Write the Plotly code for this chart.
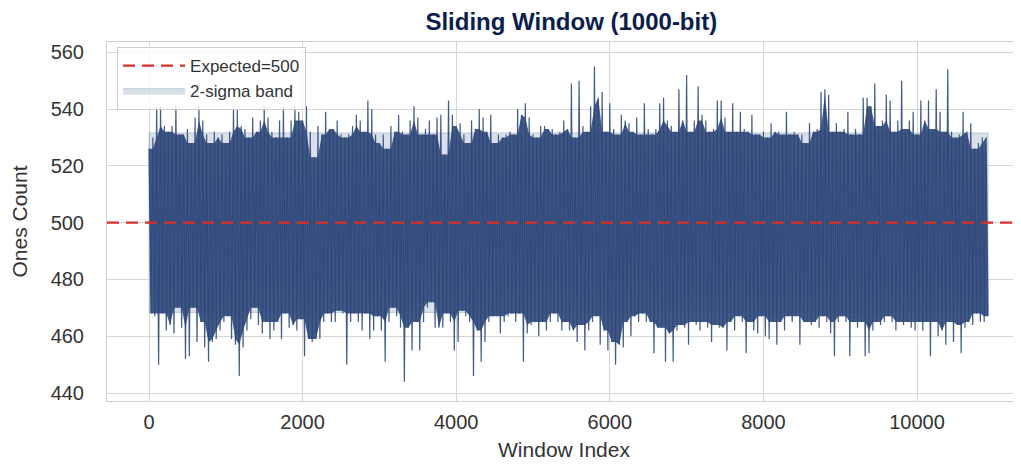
import plotly.graph_objects as go

# Per-bin (50 windows) extremes of the ones count
hi = [526, 530, 541, 541, 534, 532, 534, 541, 531, 531, 533, 528, 537, 541, 536, 531, 528, 532, 530, 531,
      528, 532, 541, 540, 534, 533, 530, 537, 532, 536, 541, 537, 532, 530, 536, 541, 530, 536, 541, 539,
      536, 541, 532, 523, 534, 531, 539, 533, 533, 536, 531, 530, 531, 534, 538, 536, 532, 543, 540, 531,
      528, 531, 526, 534, 532, 538, 532, 531, 536, 541, 537, 531, 533, 536, 531, 537, 538, 524, 543, 538,
      534, 535, 531, 528, 536, 533, 540, 537, 532, 538, 528, 531, 530, 531, 532, 531, 540, 538, 542, 537,
      531, 530, 534, 534, 533, 533, 531, 532, 536, 533, 549, 530, 550, 534, 532, 541, 555, 544, 546, 532,
      542, 533, 531, 538, 536, 535, 532, 537, 531, 542, 533, 531, 533, 542, 544, 536, 534, 532, 547, 536,
      552, 532, 536, 548, 538, 536, 532, 533, 543, 543, 537, 532, 542, 532, 539, 533, 532, 538, 531, 531,
      532, 530, 535, 532, 532, 531, 539, 531, 532, 531, 531, 528, 535, 532, 533, 546, 547, 545, 532, 535,
      532, 533, 539, 531, 533, 531, 544, 544, 541, 549, 534, 536, 545, 543, 532, 536, 550, 533, 536, 539,
      531, 543, 536, 543, 533, 547, 539, 532, 554, 532, 530, 531, 539, 532, 535, 526, 528, 530, 530]
lo = [468, 467, 450, 468, 462, 464, 461, 470, 463, 452, 453, 470, 458, 465, 456, 451, 458, 459, 462, 465,
      467, 459, 457, 446, 456, 462, 466, 470, 464, 461, 465, 459, 462, 465, 459, 468, 463, 464, 462, 466,
      453, 459, 458, 459, 459, 465, 468, 465, 465, 469, 468, 450, 465, 468, 465, 462, 468, 459, 462, 467,
      462, 451, 465, 470, 467, 463, 444, 463, 455, 465, 455, 465, 470, 472, 463, 463, 463, 468, 465, 455,
      458, 469, 467, 465, 446, 462, 451, 458, 465, 467, 467, 461, 465, 467, 468, 465, 468, 451, 461, 464,
      465, 460, 465, 462, 465, 468, 465, 462, 465, 462, 462, 458, 464, 455, 462, 465, 467, 457, 462, 455,
      458, 450, 457, 456, 465, 460, 467, 465, 468, 465, 465, 454, 463, 463, 451, 461, 451, 462, 464, 463,
      457, 465, 464, 462, 465, 463, 458, 464, 463, 463, 455, 465, 462, 467, 465, 454, 465, 462, 461, 467,
      460, 459, 465, 457, 465, 462, 467, 465, 467, 457, 465, 465, 464, 465, 463, 467, 465, 461, 453, 465,
      467, 465, 453, 465, 463, 465, 453, 454, 462, 465, 464, 465, 467, 465, 462, 465, 464, 465, 463, 462,
      465, 462, 465, 453, 465, 460, 462, 457, 465, 458, 464, 454, 463, 465, 464, 468, 465, 465, 467]

bin_size = 50
expected = 500
band_low = 468.4
band_high = 531.6
last_window = 10925

x_ticks = [0, 2000, 4000, 6000, 8000, 10000]
x_tick_text = ["0", "2000", "4000", "6000", "8000", "10000"]
y_ticks = [440, 460, 480, 500, 520, 540, 560]
x_range = [-547, 11354]
y_range = [437.2, 563.6]

half = bin_size // 2
n = len(hi)
xs, ys = [], []
for k in range(n):
    xs += [k * bin_size, k * bin_size + half]
    ys += [hi[k], lo[k]]

# dense body of the trace: local floor of the upper extremes / ceiling of the lower ones
body_hi = [min(hi[max(k - 1, 0):k + 2]) for k in range(n)]
body_lo = [max(lo[max(k - 1, 0):k + 2]) for k in range(n)]
env_x = [k * bin_size for k in range(n)] + [k * bin_size + half for k in range(n - 1, -1, -1)]
env_y = body_hi + body_lo[::-1]

line_col = "rgba(47,72,122,0.9)"

fig = go.Figure()
fig.add_trace(go.Scatter(
    x=[0, last_window, last_window, 0, 0],
    y=[band_low, band_low, band_high, band_high, band_low],
    fill="toself", fillcolor="rgba(100,125,165,0.24)",
    line=dict(color="rgba(100,125,165,0.35)", width=1),
    mode="lines", name="2-sigma band", legendrank=2, hoverinfo="skip"))
fig.add_trace(go.Scatter(
    x=env_x, y=env_y, mode="lines", fill="toself", fillcolor=line_col,
    line=dict(width=0, simplify=False), showlegend=False, hoverinfo="skip"))
fig.add_trace(go.Scatter(
    x=xs, y=ys, mode="lines",
    line=dict(color=line_col, width=1.2, simplify=False),
    showlegend=False))
fig.add_trace(go.Scatter(
    x=x_range, y=[expected, expected], mode="lines",
    line=dict(color="#d62f2b", width=2.4, dash="12px,7px"),
    name="Expected=500", legendrank=1))

# the page body adds an 8px offset; the figure is sized to the visible area
W, H = 1013, 456
font_family = "Liberation Sans, Arial, sans-serif"
fig.update_layout(
    width=W, height=H,
    margin=dict(l=99, r=0, t=34, b=63),
    paper_bgcolor="white", plot_bgcolor="white",
    font=dict(family=font_family, size=20, color="#333333"),
    title=dict(text="<b>Sliding Window (1000-bit)</b>", x=0.508, xref="paper", xanchor="center",
               y=1, yref="container", yanchor="top", pad=dict(t=5), automargin=False,
               font=dict(size=24, color="#0b1d4d", family=font_family)),
    legend=dict(x=0.011, y=0.986, xanchor="left", yanchor="top",
                bgcolor="rgba(255,255,255,0.8)", bordercolor="#cccccc", borderwidth=1,
                font=dict(size=17, color="#333333"), tracegroupgap=0, itemwidth=62),
    showlegend=True,
)
fig.update_xaxes(range=x_range, tickvals=x_ticks, ticktext=x_tick_text, showgrid=True,
                 gridcolor="#d6d6d6", gridwidth=1, automargin=False,
                 showline=True, linecolor="#d0d0d0", linewidth=1, mirror=True, zeroline=False,
                 ticks="", title=dict(text="Window Index", standoff=10, font=dict(size=21)),
                 ticklabelstandoff=3)
fig.update_yaxes(range=y_range, tickvals=y_ticks, showgrid=True, gridcolor="#d6d6d6", gridwidth=1,
                 showline=True, linecolor="#d0d0d0", linewidth=1, mirror=True, zeroline=False,
                 automargin=False,
                 ticks="", title=dict(text="Ones Count", standoff=17, font=dict(size=21)),
                 ticklabelstandoff=18)

fig.write_html("out.html")
